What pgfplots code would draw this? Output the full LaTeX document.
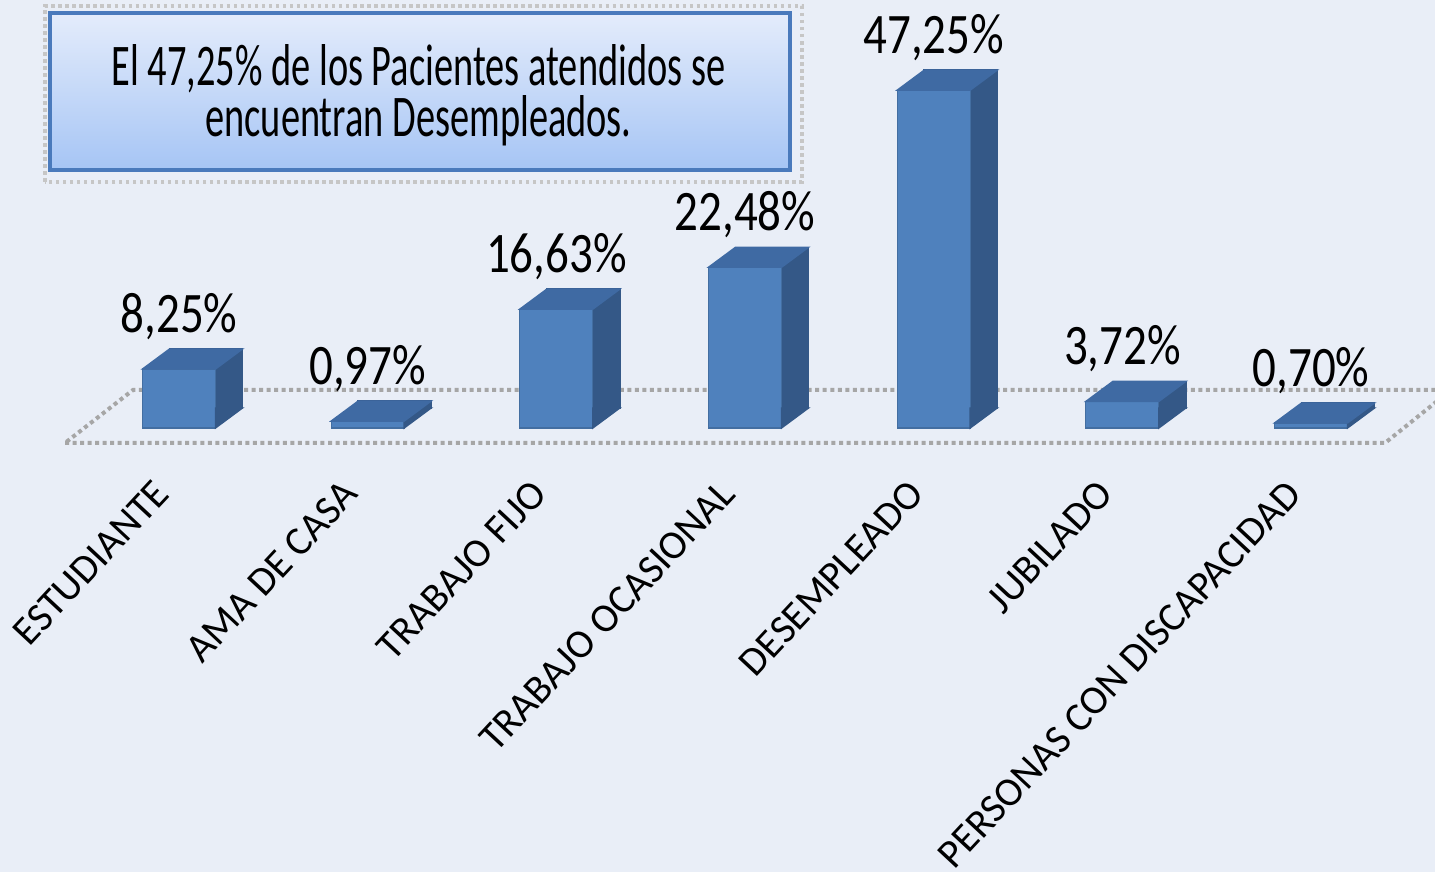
\documentclass[border=0pt]{standalone}
\usepackage{fontspec}
\setmainfont{Carlito}
\newfontfamily\numfont[FakeStretch=0.82]{Carlito}
\newfontfamily\boxfont[FakeStretch=0.65]{Carlito}
\usepackage{pgfplots}
\usepackage{pgfplotstable}
\pgfplotsset{compat=1.18}
\definecolor{bg}{RGB}{233,238,247}
\definecolor{front}{RGB}{79,129,189}
\definecolor{side}{RGB}{52,88,135}
\definecolor{topc}{RGB}{63,106,163}
\definecolor{boxtop}{RGB}{228,236,251}
\definecolor{boxbot}{RGB}{166,197,245}
\definecolor{boxline}{RGB}{74,122,188}

\pgfdeclareplotmark{topface}{%
 \pgfpathmoveto{\pgfpoint{-3.65mm}{0mm}}%
 \pgfpathlineto{\pgfpoint{3.65mm}{0mm}}%
 \pgfpathlineto{\pgfpoint{6.35mm}{2mm}}%
 \pgfpathlineto{\pgfpoint{-0.95mm}{2mm}}%
 \pgfpathclose
 \pgfusepathqfillstroke}
\pgfdeclareplotmark{sidebot}{%
 \pgfpathmoveto{\pgfpoint{3.65mm}{0mm}}%
 \pgfpathlineto{\pgfpoint{6.35mm}{2mm}}%
 \pgfpathlineto{\pgfpoint{3.65mm}{2mm}}%
 \pgfpathclose
 \pgfusepathqfillstroke}

\pgfplotstableread{
x v z
0 8.25 0
1 0.97 0
2 16.63 0
3 22.48 0
4 47.25 0
5 3.72 0
6 0.70 0
}\datatable

\begin{document}
\begin{tikzpicture}
\useasboundingbox (0,0) rectangle (14.35,8.72);
\fill[bg] (0,0) rectangle (14.35,8.72);
\clip (0,0) rectangle (14.35,8.72);
% floor
\draw[gray!70, line width=0.4mm, densely dotted] (0.65,4.29) -- (13.85,4.29) -- (14.51,4.82) -- (1.33,4.82) -- cycle;
\begin{axis}[
  scale only axis, width=13.207cm, height=3.9325cm,
  at={(0.8467cm,4.44cm)}, anchor=south west,
  xmin=-0.5, xmax=6.5, ymin=0, ymax=55, clip=false,
  axis line style={draw=none}, tick style={draw=none}, ytick=\empty,
  xtick={0,...,6},
  xticklabels={ESTUDIANTE, AMA DE CASA, TRABAJO FIJO, TRABAJO OCASIONAL, DESEMPLEADO, JUBILADO, PERSONAS CON DISCAPACIDAD},
  xticklabel style={font=\fontsize{11.5}{13}\selectfont, inner sep=0pt, xshift=-2.7mm, yshift=-4.9mm, rotate=47, anchor=north east},
]
\addplot[ybar, bar width=7.3mm, bar shift=0pt, fill=side, draw=side, xshift=2.7mm, yshift=2mm] table[x=x,y=v]{\datatable};
\addplot[only marks, mark=sidebot, mark options={fill=side, draw=side}] table[x=x,y=z]{\datatable};
\addplot[only marks, mark=topface, mark options={fill=topc, draw=topc}] table[x=x,y=v]{\datatable};
\addplot[ybar, bar width=7.3mm, bar shift=0pt, fill=front, draw=front!85!black, line width=0.3pt,
  nodes near coords={\numfont\fontsize{16.3}{18}\selectfont\pgfmathprintnumber[fixed,fixed zerofill,precision=2,use comma,assume math mode=true]{\pgfplotspointmeta}\%},
  every node near coord/.append style={inner sep=0pt, yshift=2.9mm, black}] table[x=x,y=v]{\datatable};
\end{axis}
% text box
\draw[gray!45, densely dotted, line width=0.35mm] (0.45,6.90) rectangle (8.02,8.66);
\draw[boxline, line width=0.45mm, top color=boxtop, bottom color=boxbot] (0.50,7.02) rectangle (7.90,8.59);
\node[font=\boxfont\fontsize{16.8}{18}\selectfont, anchor=base] at (4.185,7.86) {El 47,25\% de los Pacientes atendidos se};
\node[font=\boxfont\fontsize{16.8}{18}\selectfont, anchor=base] at (4.185,7.35) {encuentran Desempleados.};
\end{tikzpicture}
\end{document}
